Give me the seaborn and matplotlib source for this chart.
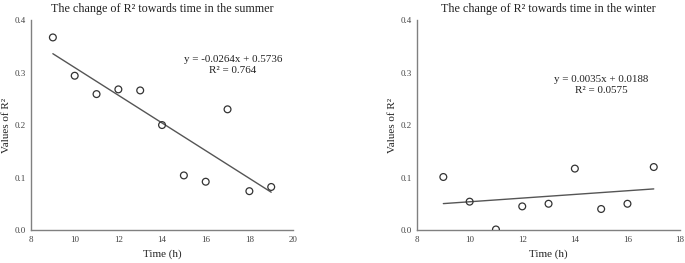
import numpy as np
import matplotlib
matplotlib.use("Agg")
import matplotlib.pyplot as plt
import seaborn as sns

sns.set_style("white")
plt.rcParams["font.family"] = ["Liberation Serif", "DejaVu Serif"]

# summer data
summer_time = [9, 10, 11, 12, 13, 14, 15, 16, 17, 18, 19]
summer_r2 = [0.367, 0.294, 0.259, 0.268, 0.266, 0.200, 0.104, 0.092, 0.230, 0.074, 0.082]
summer_fit = [-0.0264, 0.5736]   # slope, intercept
summer_fit_r2 = 0.764

# winter data
winter_time = [9, 10, 11, 12, 13, 14, 15, 16, 17]
winter_r2 = [0.101, 0.054, 0.001, 0.045, 0.050, 0.117, 0.040, 0.050, 0.120]
winter_fit = [0.0035, 0.0188]
winter_fit_r2 = 0.0575

fig = plt.figure(figsize=(6.85, 2.63), dpi=100)
ax1 = fig.add_axes([0.0453, 0.1255, 0.3825, 0.798])
ax2 = fig.add_axes([0.6088, 0.1255, 0.3840, 0.798])

panels = [
    (ax1, summer_time, summer_r2, summer_fit, summer_fit_r2, "summer", (8, 20), (17.25, 0.315)),
    (ax2, winter_time, winter_r2, winter_fit, winter_fit_r2, "winter", (8, 18), (15.0, 0.277)),
]

for ax, t, r2, fit, fr2, season, xlim, txt in panels:
    sns.scatterplot(x=t, y=r2, ax=ax, s=24, facecolor="none", edgecolor="#333333",
                    linewidth=0.9, zorder=3)
    xs = np.array([min(t), max(t)])
    sns.lineplot(x=xs, y=fit[0] * xs + fit[1], ax=ax, color="#555555", linewidth=1.0)
    sign = "-" if fit[0] < 0 else ""
    eq = f"y = {sign}{abs(fit[0]):.4f}x + {fit[1]:.4f}\nR² = {fr2:g}"
    ax.text(txt[0], txt[1], eq, ha="center", va="center", fontsize=7.9,
            color="#222222", linespacing=1.25)
    ax.set_xlim(*xlim)
    ax.set_ylim(0, 0.4)
    ax.set_xticks(np.arange(xlim[0], xlim[1] + 1, 2))
    ax.set_yticks([0.0, 0.1, 0.2, 0.3, 0.4])
    ax.set_yticklabels(["0.0", "0.1", "0.2", "0.3", "0.4"])
    ax.tick_params(labelsize=6.5, labelcolor="#444444", length=0, pad=4)
    for s in ["top", "right"]:
        ax.spines[s].set_visible(False)
    for s in ["left", "bottom"]:
        ax.spines[s].set_color("#808080")
        ax.spines[s].set_linewidth(1.0)
    ax.set_title(f"The change of R² towards time in the {season}", fontsize=8.7,
                 color="#222222", pad=6)
    ax.set_xlabel("Time (h)", fontsize=8, color="#222222", labelpad=4)
    ax.set_ylabel("Values of R²", fontsize=8, color="#222222", labelpad=2)

fig.savefig("out.png", dpi=100)
